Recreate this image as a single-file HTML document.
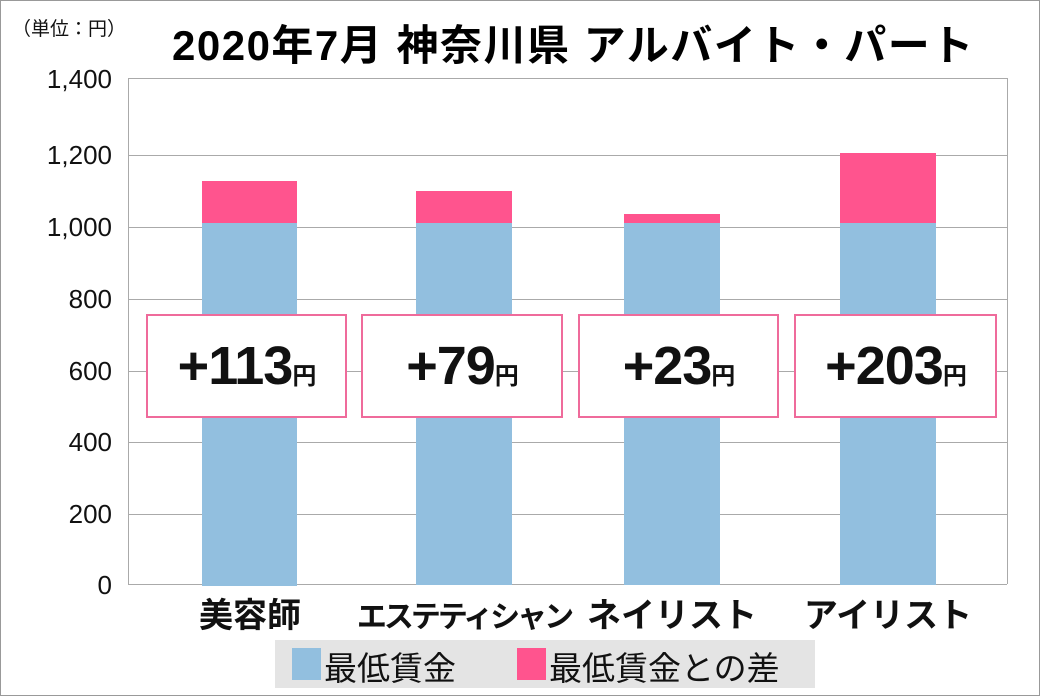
<!DOCTYPE html>
<html><head><meta charset="utf-8"><style>
body{margin:0;width:1040px;height:696px;background:#fff;position:relative;overflow:hidden;font-family:"Liberation Sans","Noto Sans CJK JP",sans-serif}
.a{position:absolute}
.frame{left:0;top:0;width:1038px;height:694px;border:1px solid #999}
.tick{right:928px;font-size:26px;color:#111;text-align:right}
.grid{left:128px;width:879px;height:1px;background:#aaa}
.blue{background:#92bfdf}
.pink{background:#ff548e}
.lab{top:314px;height:100px;border:2px solid #ef6b9b;background:#fff;font-weight:bold;font-size:54px;display:flex;align-items:center;justify-content:center;color:#111;letter-spacing:-1px}
.lab small{font-size:24px;margin-top:14px}
.cat{top:588px;font-size:34px;font-weight:bold;text-align:center;width:230px;color:#111}
</style></head><body>
<div class="a frame"></div>
<div class="a" style="left:12px;top:14px;font-size:19px;color:#111">（単位：円）</div>
<div class="a" style="left:172px;top:12px;font-size:42px;font-weight:bold;color:#000;letter-spacing:1.5px">2020年7月 神奈川県 アルバイト・パート</div>
<div class="a" style="left:128px;top:78px;width:878px;height:505px;border:1px solid #aaa;border-bottom:none"></div>
<div class="a grid" style="top:155px"></div>
<div class="a grid" style="top:227px"></div>
<div class="a grid" style="top:299px"></div>
<div class="a grid" style="top:371px"></div>
<div class="a grid" style="top:442px"></div>
<div class="a grid" style="top:514px"></div>
<div class="a grid" style="top:584px"></div>
<div class="a tick" style="top:64px">1,400</div>
<div class="a tick" style="top:140px">1,200</div>
<div class="a tick" style="top:212px">1,000</div>
<div class="a tick" style="top:284px">800</div>
<div class="a tick" style="top:356px">600</div>
<div class="a tick" style="top:427px">400</div>
<div class="a tick" style="top:499px">200</div>
<div class="a tick" style="top:570px">0</div>

<div class="a pink" style="left:202px;top:181px;width:95px;height:42px"></div>
<div class="a blue" style="left:202px;top:223px;width:95px;height:363px"></div>
<div class="a pink" style="left:416px;top:191px;width:96px;height:32px"></div>
<div class="a blue" style="left:416px;top:223px;width:96px;height:362px"></div>
<div class="a pink" style="left:624px;top:214px;width:96px;height:9px"></div>
<div class="a blue" style="left:624px;top:223px;width:96px;height:362px"></div>
<div class="a pink" style="left:840px;top:153px;width:96px;height:70px"></div>
<div class="a blue" style="left:840px;top:223px;width:96px;height:362px"></div>

<div class="a lab" style="left:146px;width:197px">+113<small>円</small></div>
<div class="a lab" style="left:361px;width:198px">+79<small>円</small></div>
<div class="a lab" style="left:578px;width:197px">+23<small>円</small></div>
<div class="a lab" style="left:794px;width:199px">+203<small>円</small></div>

<div class="a cat" style="left:135px">美容師</div>
<div class="a cat" style="left:349px;font-size:30px;letter-spacing:-3px;top:592px">エステティシャン</div>
<div class="a cat" style="left:557px">ネイリスト</div>
<div class="a cat" style="left:773px">アイリスト</div>

<div class="a" style="left:275px;top:640px;width:540px;height:48px;background:#e4e4e4"></div>
<div class="a blue" style="left:292px;top:648px;width:29px;height:32px"></div>
<div class="a" style="left:324px;top:642px;font-size:33px;color:#111">最低賃金</div>
<div class="a pink" style="left:517px;top:648px;width:29px;height:32px"></div>
<div class="a" style="left:549px;top:642px;font-size:33px;color:#111">最低賃金との差</div>
</body></html>
